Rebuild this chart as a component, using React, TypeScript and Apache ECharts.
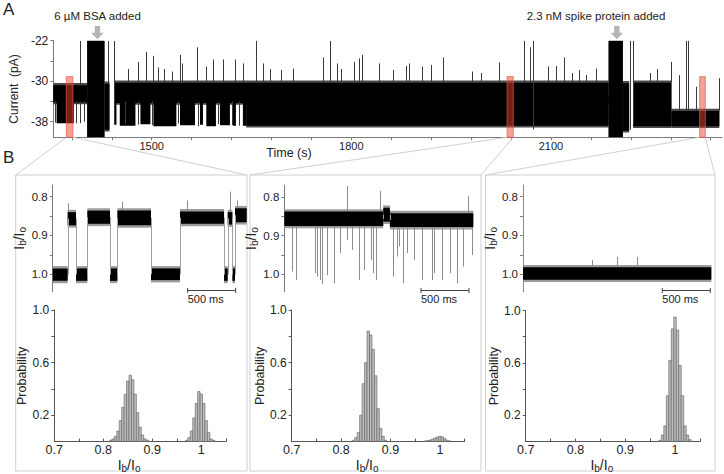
import React, { useEffect, useRef } from "react";
import * as echarts from "echarts";

const FONT = '"Liberation Sans", Arial, Helvetica, sans-serif';
const TXT = "#222";
const AX = "#7a7a7a";

// ---------------- Panel A: current trace ----------------
const timeRange = [1352, 2357];
const currentRange = [-41.1, -22];
const timeTickValues = [1380, 1440, 1500, 1560, 1620, 1680, 1740, 1800, 1860, 1920, 1980, 2040, 2100, 2160, 2220, 2280, 2340];
const timeLabelValues = [1500, 1800, 2100];
const currentTickValues = [-38, -34, -30, -26, -22];
const currentLabelValues = [-38, -30, -22];

// dense noisy bands of the recording: [t0 (s), t1 (s), low (pA), high (pA)]
const currentBands = [
  [1352, 1403, -34.2, -30.8],
  [1403, 1429, -41.1, -22],
  [1429, 1436.5, -39.6, -30.5],
  [1444, 2186.6, -34.3, -30.3],
  [1642, 2186.6, -38.8, -33],
  [2186.6, 2208, -41.1, -22],
  [2208, 2217.5, -39.8, -30.4],
  [2223.5, 2281, -38.9, -30.3],
  [2281, 2353, -38.9, -35.9],
];
// clusters of dwells in the lower current level: [t0, t1, low, high]
const lowerDwells = [
  [1357, 1383, -38.3, -34],
  [1444, 1447, -38.6, -34],
  [1452, 1475.5, -38.8, -34],
  [1483, 1498, -38.5, -34],
  [1502.5, 1537, -38.9, -34],
  [1542.5, 1565, -38.7, -34],
  [1572.5, 1577, -38.6, -34],
  [1582, 1596.5, -38.9, -34],
  [1602.5, 1617.5, -38.7, -34],
  [1622, 1626.5, -38.8, -34],
  [1637, 1642, -38.8, -34],
];
// single transient events: [t, from, to]
const currentEvents = [
  [1354, -34, -38.2], [1386, -34, -38.3], [1392, -34, -38.3], [1398, -34, -38],
  [1391.6, -30.8, -22], [1434.3, -30.5, -22], [1444, -38.6, -22],
  [1460, -34, -38.5], [1479, -34, -38.6], [1500, -34, -38.7], [1540, -34, -38.4], [1569, -34, -38.9],
  [1599, -34, -38.5], [1620, -34, -38.7], [1631, -34, -38.8],
  [2073.7, -39.5, -22], [2218, -39.6, -22], [2224, -38.5, -22],
  [2292.5, -35.9, -28.8], [2302.5, -35.9, -22], [2306, -35.9, -22], [2317.5, -35.9, -31.1], [2353, -35.9, -29.4],
];
// upward current spikes from the open level: [t, peak]
const spikeBase = -30.3;
const spikePeaks = [
  [1465, -27.6], [1480, -26.2], [1492, -24.2], [1502, -25.0], [1510, -27.3], [1518, -27.6], [1530, -28.1],
  [1542, -24.8], [1546, -26.5], [1568, -23.3], [1582, -27.1], [1592, -25.7], [1607, -25.7], [1625, -25.7],
  [1637, -26.5], [1657, -22], [1667, -26.5], [1677, -27.6], [1694, -27.8], [1712, -27.5], [1757, -25.3],
  [1768, -22], [1779, -26.5], [1784, -27.6], [1804, -26.2], [1811, -25.5], [1816, -24.8], [1842, -26.5],
  [1863, -27.8], [1882, -27.0], [1886, -26.5], [1906, -27.1], [1920, -26.8], [1938, -25.3], [1981, -28.1],
  [1995, -28.4], [2022, -26.3], [2060, -22], [2069, -23.3], [2073, -22], [2095, -27.1], [2107, -27.0],
  [2119, -25.3], [2132, -28.4], [2142, -27.8], [2153, -28.8], [2167, -27.5], [2249, -28.4], [2259, -27.6], [2280, -26.2],
];
// highlighted windows shown enlarged in B: [t0, t1]
const highlightWindows = [[1371.6, 1381.6], [2034, 2043.3], [2323.4, 2332]];
const highlightTop = -29.1;
const additionTimes = [1418.4, 2199];

// ---------------- Panel B: enlarged traces (time in ms, Ib/Io) ----------------
const traceRange = [0, 2021];
const ratioRange = [0.77, 1.045];
const ratioTickValues = [0.8, 0.85, 0.9, 0.95, 1.0];
const ratioLabelValues = [0.8, 0.9, 1.0];

// dwell segments: [t0, t1, low, high]
const trace1Segments = [
  [0, 156, 0.985, 1.017], [156, 243, 0.84, 0.874], [243, 361, 0.985, 1.017], [361, 597, 0.836, 0.87],
  [597, 674, 0.985, 1.017], [674, 1024, 0.836, 0.874], [1024, 1326, 0.985, 1.015], [1326, 1785, 0.838, 0.87],
  [1785, 1823, 0.985, 1.017], [1823, 1872, 0.84, 0.872], [1872, 1899, 0.985, 1.017], [1899, 2021, 0.83, 0.866],
];
const trace1Spikes = [[163, 0.84, 0.817], [719, 0.836, 0.813], [1396, 0.838, 0.81], [1847, 0.84, 0.787], [1917, 0.83, 0.81]];

const trace2Segments = [
  [0, 1031, 0.838, 0.875], [1031, 1100, 0.828, 0.864], [1100, 1969, 0.842, 0.878],
];
const trace2Spikes = [
  [83, 0.875, 0.993], [122, 0.875, 1.015], [319, 0.875, 0.997], [344, 0.875, 1.006], [372, 0.875, 1.015],
  [396, 0.875, 1.025], [448, 0.875, 1.002], [517, 0.875, 1.023], [580, 0.875, 0.945], [649, 0.875, 0.911],
  [701, 0.875, 0.937], [781, 0.875, 1.015], [833, 0.875, 0.989], [899, 0.875, 0.963], [920, 0.875, 0.997],
  [951, 0.875, 1.015], [1128, 0.878, 1.006], [1170, 0.878, 0.954], [1198, 0.878, 0.928], [1237, 0.878, 1.02],
  [1241, 0.878, 1.023], [1274, 0.878, 0.945],
  [1354, 0.878, 0.963], [1431, 0.878, 1.015], [1535, 0.878, 1.015], [1563, 0.878, 0.997], [1639, 0.878, 1.015],
  [1726, 0.878, 0.997], [1802, 0.878, 1.023], [1858, 0.878, 0.98], [1958, 0.878, 0.95],
  [649, 0.838, 0.772], [997, 0.838, 0.785], [1910, 0.842, 0.798],
];

const trace3Segments = [[0, 1962, 0.982, 1.014]];
const trace3Spikes = [[0, 0.772, 1.04], [715, 0.98, 0.963], [983, 0.98, 0.955], [1191, 0.98, 0.955]];

const scaleBarStarts = [1406, 1424, 1451];
const scaleBarLength = 500;
const scaleBarLevel = 1.04;

// ---------------- Panel B: histograms [bin centre, probability] ----------------
const binWidth = 0.005;
const histXRange = [0.7, 1.05];
const histXTicks = [0.7, 0.75, 0.8, 0.85, 0.9, 0.95, 1.0, 1.05];
const histXLabels = [0.7, 0.8, 0.9, 1.0];
const probTicks = [0.2, 0.4, 0.6, 0.8, 1.0];
const probLabels = [0.2, 0.6, 1.0];

const hist1Bins = [
  [0.815, 0.01], [0.82, 0.02], [0.825, 0.04], [0.83, 0.08], [0.835, 0.16], [0.84, 0.26], [0.845, 0.36], [0.85, 0.46],
  [0.855, 0.505], [0.86, 0.47], [0.865, 0.36], [0.87, 0.22], [0.875, 0.11], [0.88, 0.05], [0.885, 0.02], [0.89, 0.01],
  [0.97, 0.01], [0.975, 0.03], [0.98, 0.08], [0.985, 0.18], [0.99, 0.29], [0.995, 0.38], [1.0, 0.36], [1.005, 0.29],
  [1.01, 0.16], [1.015, 0.07], [1.02, 0.02], [1.025, 0.01],
];
const hist2Bins = [
  [0.825, 0.01], [0.83, 0.03], [0.835, 0.07], [0.84, 0.2], [0.845, 0.44], [0.85, 0.6], [0.855, 0.84], [0.86, 0.81],
  [0.865, 0.7], [0.87, 0.5], [0.875, 0.25], [0.88, 0.1], [0.885, 0.04], [0.89, 0.01],
  [0.97, 0.005], [0.975, 0.008], [0.98, 0.012], [0.985, 0.018], [0.99, 0.027], [0.995, 0.035], [1.0, 0.04],
  [1.005, 0.036], [1.01, 0.022], [1.015, 0.01], [1.02, 0.005],
];
const hist3Bins = [
  [0.97, 0.01], [0.975, 0.05], [0.98, 0.12], [0.985, 0.35], [0.99, 0.62], [0.995, 0.86], [1.0, 0.95],
  [1.005, 0.85], [1.01, 0.58], [1.015, 0.35], [1.02, 0.12], [1.025, 0.05], [1.03, 0.015],
];

// ---------------- layout ----------------
const panelBoxes = [
  [15.7, 175, 231.3, 296],
  [250, 175, 231, 296],
  [485.5, 175, 229.5, 296],
];
const traceGrids = [
  { left: 52.7, top: 185, width: 194, height: 106.7 },
  { left: 284.3, top: 185.3, width: 194, height: 106.4 },
  { left: 523, top: 185, width: 194, height: 106.7 },
];
const histGrids = [
  { left: 54.3, top: 310, width: 171.5, height: 133.3 },
  { left: 291.7, top: 310, width: 172.9, height: 133.3 },
  { left: 525.7, top: 310.5, width: 174.2, height: 132.8 },
];

const ibio = "{m|I}{s|b}{m|/I}{s|o}";
const ibioRich = {
  m: { fontSize: 14, fontFamily: FONT, color: TXT },
  s: { fontSize: 10, fontFamily: FONT, color: TXT, padding: [7, 0, 0, 0] },
};

function rectShape(api: any, t0: number, t1: number, lo: number, hi: number) {
  const a = api.coord([t0, hi]);
  const b = api.coord([t1, lo]);
  const x = Math.min(a[0], b[0]);
  const y = Math.min(a[1], b[1]);
  return { x, y, width: Math.max(0.8, Math.abs(b[0] - a[0])), height: Math.abs(b[1] - a[1]) };
}
function vline(api: any, t: number, y0: number, y1: number, stroke: string, w = 1) {
  const a = api.coord([t, y0]);
  const b = api.coord([t, y1]);
  const x = Math.round(a[0]) + 0.5;
  return { type: "line", shape: { x1: x, y1: a[1], x2: x, y2: b[1] }, style: { stroke, lineWidth: w } };
}

function buildOption() {
  const grids: any[] = [{ left: 49.3, top: 40.7, width: 672.7, height: 96.6 }];
  traceGrids.forEach((g) => grids.push(g));
  histGrids.forEach((g) => grids.push(g));

  const xAxes: any[] = [];
  const yAxes: any[] = [];
  const series: any[] = [];

  // --- panel A axes
  xAxes.push({
    gridIndex: 0, type: "value", min: timeRange[0], max: timeRange[1],
    axisLine: { show: true, onZero: false, lineStyle: { color: AX, width: 1 } },
    axisTick: { show: true, length: 3, customValues: timeTickValues, lineStyle: { color: AX } },
    axisLabel: { customValues: timeLabelValues, margin: 3, fontSize: 11, fontFamily: FONT, color: TXT, formatter: (v: number) => String(v) },
    splitLine: { show: false },
  });
  yAxes.push({
    gridIndex: 0, type: "value", min: currentRange[0], max: currentRange[1],
    axisLine: { show: true, onZero: false, lineStyle: { color: AX, width: 1 } },
    axisTick: { show: true, length: 3, customValues: currentTickValues, lineStyle: { color: AX } },
    axisLabel: { customValues: currentLabelValues, margin: 5, fontSize: 12, fontFamily: FONT, color: TXT },
    splitLine: { show: false },
    name: "Current  (pA)", nameLocation: "middle", nameRotate: 90, nameGap: 29,
    nameTextStyle: { fontSize: 12, fontFamily: FONT, color: TXT },
  });

  // --- traces axes
  traceGrids.forEach((_, i) => {
    xAxes.push({ gridIndex: 1 + i, type: "value", min: traceRange[0], max: traceRange[1], show: false });
    yAxes.push({
      gridIndex: 1 + i, type: "value", inverse: true, min: ratioRange[0], max: ratioRange[1],
      axisLine: { show: true, onZero: false, lineStyle: { color: AX, width: 1 } },
      axisTick: { show: true, length: 3, customValues: ratioTickValues, lineStyle: { color: AX } },
      axisLabel: { customValues: ratioLabelValues, margin: 5, fontSize: 11.5, fontFamily: FONT, color: TXT, formatter: (v: number) => v.toFixed(1) },
      splitLine: { show: false },
      name: ibio, nameLocation: "middle", nameRotate: 90, nameGap: 19,
      nameTextStyle: { rich: ibioRich },
    });
  });
  // --- histogram axes
  histGrids.forEach((_, i) => {
    xAxes.push({
      gridIndex: 4 + i, type: "value", min: histXRange[0], max: histXRange[1],
      axisLine: { show: true, onZero: false, lineStyle: { color: "#555", width: 1 } },
      axisTick: { show: true, inside: true, length: 3, customValues: histXTicks, lineStyle: { color: "#555" } },
      axisLabel: { customValues: histXLabels, margin: 2, fontSize: 12.5, fontFamily: FONT, color: TXT, formatter: (v: number) => (v === 1 ? "1" : v.toFixed(1)) },
      splitLine: { show: false },
      name: ibio, nameLocation: "middle", nameGap: 9,
      nameTextStyle: { rich: ibioRich, padding: [0, 22, 0, 0] },
    });
    yAxes.push({
      gridIndex: 4 + i, type: "value", min: 0, max: 1,
      axisLine: { show: true, onZero: false, lineStyle: { color: "#555", width: 1 } },
      axisTick: { show: true, length: 3, customValues: probTicks, lineStyle: { color: "#555" } },
      axisLabel: { customValues: probLabels, margin: 5, fontSize: 12, fontFamily: FONT, color: TXT, formatter: (v: number) => v.toFixed(1) },
      splitLine: { show: false },
      name: "Probability", nameLocation: "middle", nameRotate: 90, nameGap: 24,
      nameTextStyle: { fontSize: 12.5, fontFamily: FONT, color: TXT },
    });
  });

  // --- panel A series: fringes, cores, dwells, events
  series.push({
    type: "custom", xAxisIndex: 0, yAxisIndex: 0, clip: true, z: 1, data: currentBands,
    renderItem: (p: any, api: any) => ({
      type: "rect", shape: rectShape(api, api.value(0), api.value(1), api.value(2) - 0.35, api.value(3) + 0.45), style: { fill: "#4a4a4a" },
    }),
  });
  series.push({
    type: "custom", xAxisIndex: 0, yAxisIndex: 0, clip: true, z: 2, data: currentBands,
    renderItem: (p: any, api: any) => ({
      type: "rect", shape: rectShape(api, api.value(0), api.value(1), api.value(2), api.value(3)), style: { fill: "#000" },
    }),
  });
  series.push({
    type: "custom", xAxisIndex: 0, yAxisIndex: 0, clip: true, z: 3, data: lowerDwells,
    renderItem: (p: any, api: any) => ({
      type: "rect", shape: rectShape(api, api.value(0), api.value(1), api.value(2), api.value(3)), style: { fill: "#000" },
    }),
  });
  series.push({
    type: "custom", xAxisIndex: 0, yAxisIndex: 0, clip: true, z: 3,
    data: currentEvents.concat(spikePeaks.map((s) => [s[0], spikeBase, s[1]])),
    renderItem: (p: any, api: any) => vline(api, api.value(0), api.value(1), api.value(2), "#3a3a3a", 1),
  });
  series.push({
    type: "custom", xAxisIndex: 0, yAxisIndex: 0, clip: false, z: 5, data: highlightWindows,
    renderItem: (p: any, api: any) => {
      const t0 = api.value(0), t1 = api.value(1);
      const a = api.coord([t0, highlightTop]);
      const b = api.coord([t1, currentRange[0]]);
      const box = panelBoxes[p.dataIndex];
      return {
        type: "group",
        children: [
          { type: "line", shape: { x1: a[0], y1: b[1], x2: box[0], y2: box[1] }, style: { stroke: "#cfcfcf", lineWidth: 1 } },
          { type: "line", shape: { x1: b[0], y1: b[1], x2: box[0] + box[2], y2: box[1] }, style: { stroke: "#cfcfcf", lineWidth: 1 } },
          { type: "rect", shape: { x: a[0], y: a[1], width: b[0] - a[0], height: b[1] - a[1] }, style: { fill: "rgba(236,64,46,0.5)", stroke: "rgba(235,90,70,0.85)", lineWidth: 0.8 } },
        ],
      };
    },
  });
  series.push({
    type: "custom", xAxisIndex: 0, yAxisIndex: 0, clip: false, z: 5, data: additionTimes.map((t) => [t]),
    renderItem: (p: any, api: any) => {
      const c = api.coord([api.value(0), currentRange[1]]);
      const x = c[0], y = c[1];
      return {
        type: "polygon",
        shape: { points: [[x - 2.7, y - 14.7], [x + 2.7, y - 14.7], [x + 2.7, y - 8], [x + 6.4, y - 8], [x, y - 1.4], [x - 6.4, y - 8], [x - 2.7, y - 8]] },
        style: { fill: "#b5b5b5" },
      };
    },
  });

  // --- panel B traces
  const traceSets = [
    [trace1Segments, trace1Spikes],
    [trace2Segments, trace2Spikes],
    [trace3Segments, trace3Spikes],
  ];
  traceSets.forEach(([segs, spikes], i) => {
    const gi = 1 + i;
    series.push({
      type: "custom", xAxisIndex: gi, yAxisIndex: gi, clip: false, z: 1, data: segs,
      renderItem: (p: any, api: any) => ({
        type: "rect", shape: rectShape(api, api.value(0), api.value(1), api.value(2) - 0.006, api.value(3) + 0.006), style: { fill: "#9c9c9c" },
      }),
    });
    series.push({
      type: "custom", xAxisIndex: gi, yAxisIndex: gi, clip: false, z: 3, data: segs,
      renderItem: (p: any, api: any) => {
        const [t0, t1, lo, hi] = [api.value(0), api.value(1), api.value(2), api.value(3)];
        const children: any[] = [{ type: "rect", shape: rectShape(api, t0, t1, lo, hi), style: { fill: "#000" } }];
        if (p.dataIndex > 0) {
          const prev = (segs as number[][])[p.dataIndex - 1];
          children.push(vline(api, t0, (prev[2] + prev[3]) / 2, (lo + hi) / 2, "#a0a0a0", 1));
        }
        return { type: "group", children };
      },
    });
    series.push({
      type: "custom", xAxisIndex: gi, yAxisIndex: gi, clip: false, z: 2, data: spikes,
      renderItem: (p: any, api: any) => vline(api, api.value(0), api.value(1), api.value(2), "#8c8c8c", 1),
    });
    series.push({
      type: "custom", xAxisIndex: gi, yAxisIndex: gi, clip: false, z: 4, data: [[scaleBarStarts[i], scaleBarStarts[i] + scaleBarLength, scaleBarLevel]],
      renderItem: (p: any, api: any) => {
        const a = api.coord([api.value(0), api.value(2)]);
        const b = api.coord([api.value(1), api.value(2)]);
        const y = Math.round(a[1]) + 0.5;
        return {
          type: "group",
          children: [
            { type: "line", shape: { x1: a[0], y1: y, x2: b[0], y2: y }, style: { stroke: "#444", lineWidth: 1 } },
            { type: "line", shape: { x1: a[0], y1: y - 2.5, x2: a[0], y2: y + 2.5 }, style: { stroke: "#444", lineWidth: 1 } },
            { type: "line", shape: { x1: b[0], y1: y - 2.5, x2: b[0], y2: y + 2.5 }, style: { stroke: "#444", lineWidth: 1 } },
            { type: "text", style: { text: "500 ms", x: a[0], y: y + 2.5, fill: TXT, fontSize: 11, fontFamily: FONT, textAlign: "left", textVerticalAlign: "top" } },
          ],
        };
      },
    });
  });

  // --- histograms
  [hist1Bins, hist2Bins, hist3Bins].forEach((bins, i) => {
    const gi = 4 + i;
    series.push({
      type: "custom", xAxisIndex: gi, yAxisIndex: gi, clip: true, z: 2, data: bins,
      renderItem: (p: any, api: any) => {
        const c = api.value(0), v = api.value(1);
        return {
          type: "rect",
          shape: rectShape(api, c - binWidth / 2, c + binWidth / 2, 0, v),
          style: { fill: "#bcbcbc", stroke: "#5e5e5e", lineWidth: 0.6 },
        };
      },
    });
  });

  const graphic: any[] = [
    { type: "text", left: 3, top: 1, style: { text: "A", fontSize: 17, fontFamily: FONT, fill: TXT } },
    { type: "text", left: 3, top: 149, style: { text: "B", fontSize: 17, fontFamily: FONT, fill: TXT } },
    { type: "text", x: 97.5, y: 15.5, style: { text: "6 µM BSA added", fontSize: 11.5, fontFamily: FONT, fill: TXT, textAlign: "center", textVerticalAlign: "middle" } },
    { type: "text", x: 596, y: 15.5, style: { text: "2.3 nM spike protein added", fontSize: 11.5, fontFamily: FONT, fill: TXT, textAlign: "center", textVerticalAlign: "middle" } },
    { type: "text", x: 289, y: 152.5, style: { text: "Time (s)", fontSize: 12.5, fontFamily: FONT, fill: TXT, textAlign: "center", textVerticalAlign: "middle" } },
  ];
  panelBoxes.forEach((b) => {
    graphic.push({ type: "rect", shape: { x: b[0], y: b[1], width: b[2], height: b[3] }, style: { fill: "none", stroke: "#d0d0d0", lineWidth: 1 }, z: -1 });
  });

  return {
    animation: false,
    backgroundColor: "#fff",
    grid: grids,
    xAxis: xAxes,
    yAxis: yAxes,
    series,
    graphic,
  };
}

export default function App() {
  const ref = useRef<HTMLDivElement>(null);
  useEffect(() => {
    if (!ref.current) return;
    const chart = echarts.init(ref.current, undefined, { renderer: "svg" });
    chart.setOption(buildOption() as any);
    return () => chart.dispose();
  }, []);
  return <div ref={ref} style={{ position: "fixed", left: 0, top: 0, width: 724, height: 474, background: "#fff" }} />;
}
